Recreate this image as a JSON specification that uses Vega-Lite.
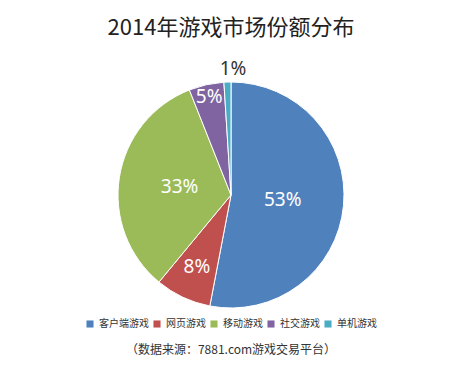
{
  "$schema": "https://vega.github.io/schema/vega-lite/v6.json",
  "autosize": "none",
  "width": 226,
  "height": 226,
  "padding": {"left": 118, "top": 82, "right": 124, "bottom": 73},
  "background": "white",
  "title": {
    "text": "2014年游戏市场份额分布",
    "font": "Noto Sans CJK SC",
    "fontSize": 22,
    "fontWeight": "normal",
    "color": "#222222",
    "anchor": "middle",
    "offset": 20
  },
  "data": {
    "values": [
      {"类型": "客户端游戏", "份额": 53, "标签": "53%", "顺序": 1},
      {"类型": "网页游戏", "份额": 8, "标签": "8%", "顺序": 2},
      {"类型": "移动游戏", "份额": 33, "标签": "33%", "顺序": 3},
      {"类型": "社交游戏", "份额": 5, "标签": "5%", "顺序": 4},
      {"类型": "单机游戏", "份额": 1, "标签": "1%", "顺序": 5}
    ]
  },
  "encoding": {
    "theta": {"field": "份额", "type": "quantitative", "stack": true},
    "order": {"field": "顺序", "type": "quantitative"}
  },
  "layer": [
    {
      "mark": {"type": "arc", "radius": 113, "stroke": "white", "strokeWidth": 1},
      "encoding": {
        "color": {
          "field": "类型",
          "type": "nominal",
          "scale": {
            "domain": ["客户端游戏", "网页游戏", "移动游戏", "社交游戏", "单机游戏"],
            "range": ["#4F81BD", "#C0504D", "#9BBB59", "#8064A2", "#4BACC6"]
          },
          "legend": {
            "orient": "none",
            "direction": "horizontal",
            "legendX": -33,
            "legendY": 237,
            "title": "（数据来源：7881.com游戏交易平台）",
            "titleOrient": "bottom",
            "titleAnchor": "middle",
            "titleFont": "Noto Sans CJK SC",
            "titleFontSize": 12,
            "titleFontWeight": "normal",
            "titleColor": "#333333",
            "titlePadding": 16,
            "titleLimit": 400,
            "symbolType": "square",
            "symbolSize": 50,
            "symbolStrokeWidth": 0,
            "labelFont": "Noto Sans CJK SC",
            "labelFontSize": 10,
            "labelColor": "#333333",
            "labelOffset": 4,
            "columnPadding": 3
          }
        }
      }
    },
    {
      "mark": {"type": "text", "radius": 52, "font": "Noto Sans", "fontSize": 19, "color": "white"},
      "encoding": {
        "text": {"condition": {"test": "datum['份额'] == 53 || datum['份额'] == 33", "field": "标签"}, "value": ""}
      }
    },
    {
      "mark": {"type": "text", "radius": 80, "font": "Noto Sans", "fontSize": 19, "color": "white"},
      "encoding": {
        "text": {"condition": {"test": "datum['份额'] == 8", "field": "标签"}, "value": ""}
      }
    },
    {
      "mark": {"type": "text", "radius": 100, "font": "Noto Sans", "fontSize": 19, "color": "white"},
      "encoding": {
        "text": {"condition": {"test": "datum['份额'] == 5", "field": "标签"}, "value": ""}
      }
    },
    {
      "mark": {"type": "text", "radius": 126, "font": "Noto Sans", "fontSize": 19, "color": "#333333", "dx": 6},
      "encoding": {
        "text": {"condition": {"test": "datum['份额'] == 1", "field": "标签"}, "value": ""}
      }
    }
  ],
  "config": {"view": {"stroke": null}}
}
